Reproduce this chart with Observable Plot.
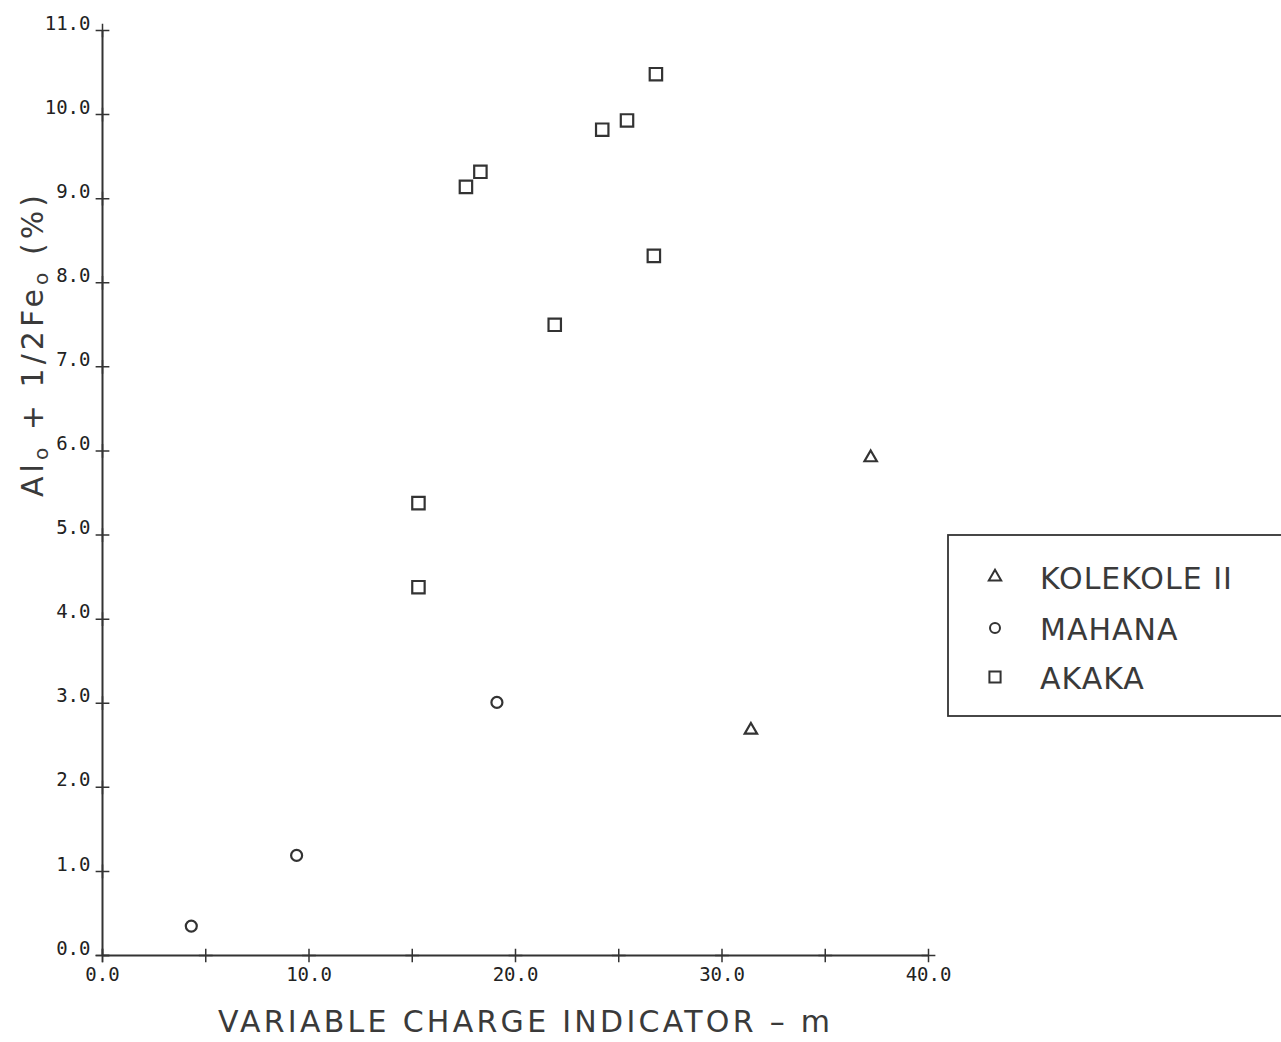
<!DOCTYPE html>
<html><head><meta charset="utf-8">
<script src="https://cdn.jsdelivr.net/npm/d3@7"></script>
<script src="https://cdn.jsdelivr.net/npm/@observablehq/plot@0.6"></script>
<style>
body{margin:0;background:#fff}
#chart{position:relative;width:1281px;height:1042px;overflow:hidden}
</style>
</head><body><div id="chart"></div>
<script>
// ---- data ----
const seriesNames = ["KOLEKOLE II", "MAHANA", "AKAKA"];
const kolekoleX = [37.2, 31.4];
const kolekoleY = [5.92, 2.68];
const mahanaX = [4.3, 9.4, 19.1];
const mahanaY = [0.35, 1.19, 3.01];
const akakaX = [17.6, 18.3, 24.2, 25.4, 26.8, 26.7, 21.9, 15.3, 15.3];
const akakaY = [9.14, 9.32, 9.82, 9.93, 10.48, 8.32, 7.50, 5.38, 4.38];
const xTicks = [0, 5, 10, 15, 20, 25, 30, 35, 40];
const xLabelValues = [0, 10, 20, 30, 40];
const xTickLabels = ["0.0", "10.0", "20.0", "30.0", "40.0"];
const yTicks = [0, 1, 2, 3, 4, 5, 6, 7, 8, 9, 10, 11];
const yTickLabels = ["0.0","1.0","2.0","3.0","4.0","5.0","6.0","7.0","8.0","9.0","10.0","11.0"];
const xTitle = "VARIABLE CHARGE INDICATOR \u2013 m";

const ink = "#333";
const pts = (xs, ys) => xs.map((x, i) => ({x, y: ys[i]}));
const mono = "DejaVu Sans Mono, monospace";

const plot = Plot.plot({
  width: 1281,
  height: 1042,
  marginLeft: 102,
  marginRight: 353,
  marginTop: 30,
  marginBottom: 87,
  x: {domain: [0, 40], axis: null},
  y: {domain: [0, 11], axis: null},
  style: {background: "#fff", fontFamily: "DejaVu Sans, sans-serif"},
  marks: [
    Plot.ruleY([0], {x1: 0, x2: 40, stroke: ink, strokeWidth: 2}),
    Plot.ruleX([0], {y1: 0, y2: 11, stroke: ink, strokeWidth: 2}),
    Plot.dot(xTicks, {x: d => d, y: 0, symbol: "plus", r: 4.5, stroke: ink, strokeWidth: 1.5}),
    Plot.dot(yTicks, {x: 0, y: d => d, symbol: "plus", r: 4.5, stroke: ink, strokeWidth: 1.5}),
    Plot.text(xLabelValues, {x: d => d, y: 0, text: (d, i) => xTickLabels[i], dy: 19, fontSize: 19, fontFamily: mono, fill: "#222"}),
    Plot.text(yTicks, {x: 0, y: d => d, text: (d, i) => yTickLabels[i], dx: -12, dy: -7, textAnchor: "end", fontSize: 19, fontFamily: mono, fill: "#222"}),
    Plot.dot(pts(kolekoleX, kolekoleY), {x: "x", y: "y", symbol: "triangle", r: 4.6, stroke: ink, strokeWidth: 2.2, fill: "none"}),
    Plot.dot(pts(mahanaX, mahanaY), {x: "x", y: "y", symbol: "circle", r: 5.5, stroke: ink, strokeWidth: 2.2, fill: "none"}),
    Plot.dot(pts(akakaX, akakaY), {x: "x", y: "y", symbol: "square", r: 7, stroke: ink, strokeWidth: 2.2, fill: "none"})
  ]
});
document.getElementById("chart").appendChild(plot);

const svg = d3.select(plot);
// x-axis title
svg.append("text")
  .attr("x", 524).attr("y", 1032)
  .attr("text-anchor", "middle")
  .attr("font-family", "DejaVu Sans, sans-serif")
  .attr("font-size", 30)
  .attr("fill", "#3a3a3a")
  .attr("textLength", 612)
  .attr("lengthAdjust", "spacing")
  .text(xTitle);

// y-axis title with subscripts
const yt = svg.append("text")
  .attr("transform", "translate(43,346) rotate(-90)")
  .attr("text-anchor", "middle")
  .attr("font-family", "DejaVu Sans, sans-serif")
  .attr("font-size", 30)
  .attr("fill", "#3a3a3a")
  .attr("textLength", 302)
  .attr("lengthAdjust", "spacing");
yt.append("tspan").text("Al");
yt.append("tspan").attr("font-size", 20).attr("dy", 5).text("o");
yt.append("tspan").attr("dy", -5).text(" + 1/2Fe");
yt.append("tspan").attr("font-size", 20).attr("dy", 5).text("o");
yt.append("tspan").attr("dy", -5).text(" (%)");

// legend
const lg = svg.append("g");
lg.append("rect").attr("x", 948).attr("y", 535).attr("width", 400).attr("height", 181)
  .attr("fill", "#fff").attr("stroke", ink).attr("stroke-width", 1.8);
const legendSymbols = [d3.symbolTriangle, d3.symbolCircle, d3.symbolSquare];
const legendR = [4.6, 5, 6.3];
const legendY = [577, 628, 677];
seriesNames.forEach((name, i) => {
  lg.append("path")
    .attr("d", d3.symbol(legendSymbols[i], Math.PI * legendR[i] * legendR[i])())
    .attr("transform", `translate(995,${legendY[i]})`)
    .attr("fill", "none").attr("stroke", ink).attr("stroke-width", 2);
  lg.append("text")
    .attr("x", 1040).attr("y", legendY[i] + 12)
    .attr("text-anchor", "start")
    .attr("font-family", "DejaVu Sans, sans-serif")
    .attr("font-size", 30)
    .attr("letter-spacing", 1)
    .attr("fill", "#3a3a3a")
    .text(name);
});
</script>
</body></html>
